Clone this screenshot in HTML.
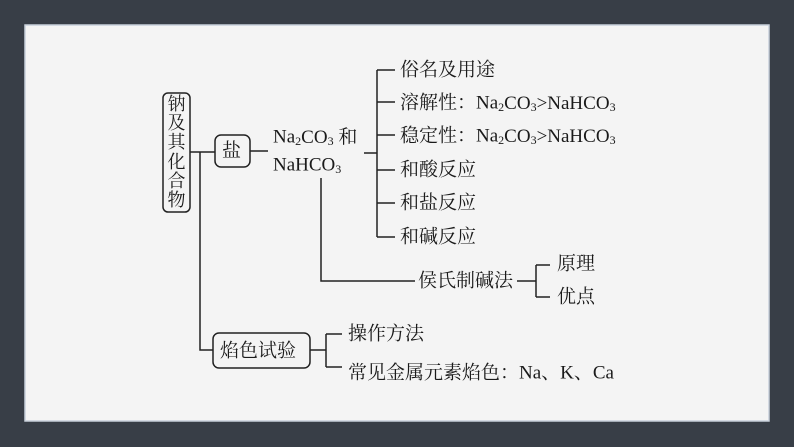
<!DOCTYPE html>
<html><head><meta charset="utf-8"><style>
html,body{margin:0;padding:0;background:#383e47;}
svg{display:block}
text{font-family:"Liberation Serif","Noto Serif CJK SC",serif;font-size:19px;fill:#1a1a1a;dominant-baseline:central}
</style></head><body>
<svg width="794" height="447" viewBox="0 0 794 447">
<rect x="0" y="0" width="794" height="447" fill="#383e47"/>
<rect x="25" y="25" width="744" height="396" fill="#f4f4f4" stroke="#c8d0dc" stroke-width="1.5"/>
<g stroke="#222" stroke-width="1.5" fill="none">
<rect x="163" y="93" width="27" height="119" rx="5"/>
<rect x="215" y="135" width="35" height="32" rx="6"/>
<rect x="213" y="333" width="97" height="35" rx="6"/>
<path d="M190 152H215M200 152V350H213M250 151H268"/>
<path d="M321 178V281H415"/>
<path d="M364 153H377M377 70V237M377 70H395M377 102H395M377 135H395M377 170H395M377 203H395M377 237H395"/>
<path d="M517 281H536M536 265V297M536 265H550M536 297H550"/>
<path d="M310 350H326M326 334V367M326 334H342M326 367H342"/>
</g>
<g text-anchor="middle" style="font-size:18px">
<text x="176.5" y="104" style="font-size:18px">钠</text>
<text x="176.5" y="123" style="font-size:18px">及</text>
<text x="176.5" y="142" style="font-size:18px">其</text>
<text x="176.5" y="162" style="font-size:18px">化</text>
<text x="176.5" y="181" style="font-size:18px">合</text>
<text x="176.5" y="200" style="font-size:18px">物</text>
</g>
<text x="222" y="151">盐</text>
<text x="273" y="137">Na<tspan font-size="12" dy="4">2</tspan><tspan dy="-4">CO</tspan><tspan font-size="12" dy="4">3</tspan><tspan dy="-4"> 和</tspan></text>
<text x="273" y="165">NaHCO<tspan font-size="12" dy="4">3</tspan></text>
<text x="400" y="70">俗名及用途</text>
<text x="400" y="103">溶解性：Na<tspan font-size="12" dy="4">2</tspan><tspan dy="-4">CO</tspan><tspan font-size="12" dy="4">3</tspan><tspan dy="-4">&gt;NaHCO</tspan><tspan font-size="12" dy="4">3</tspan></text>
<text x="400" y="136">稳定性：Na<tspan font-size="12" dy="4">2</tspan><tspan dy="-4">CO</tspan><tspan font-size="12" dy="4">3</tspan><tspan dy="-4">&gt;NaHCO</tspan><tspan font-size="12" dy="4">3</tspan></text>
<text x="400" y="170">和酸反应</text>
<text x="400" y="203">和盐反应</text>
<text x="400" y="237">和碱反应</text>
<text x="418" y="281">侯氏制碱法</text>
<text x="557" y="264">原理</text>
<text x="557" y="297">优点</text>
<text x="220" y="351">焰色试验</text>
<text x="348" y="334">操作方法</text>
<text x="348" y="373">常见金属元素焰色：Na、K、Ca</text>
</svg>
</body></html>
